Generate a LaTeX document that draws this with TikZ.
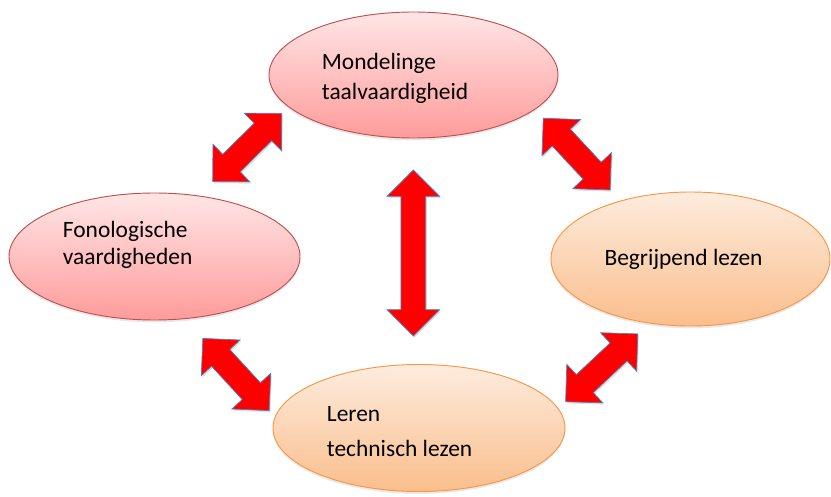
\documentclass[tikz,border=0pt]{standalone}
\usepackage{fontspec}
\setmainfont{Carlito}
\usepackage{tikz}
\usetikzlibrary{shapes.geometric,shapes.arrows,shadows}
\usepackage{xcolor}
\definecolor{skpink}{RGB}{255,230,230}
\definecolor{skpinkdark}{RGB}{255,155,155}
\definecolor{skpinkline}{RGB}{192,80,77}
\definecolor{skorange}{RGB}{253,236,222}
\definecolor{skorangedark}{RGB}{250,190,140}
\definecolor{skorangeline}{RGB}{247,150,70}
\definecolor{skred}{RGB}{255,0,0}
\definecolor{skblue}{RGB}{79,129,189}
\tikzstyle{bubble} = [ellipse, inner sep=0pt, line width=0.8pt, drop shadow={opacity=0.18, shadow xshift=0pt, shadow yshift=-2pt}]
\tikzstyle{pinkbubble} = [bubble, draw=skpinkline, top color=skpink, bottom color=skpinkdark]
\tikzstyle{orangebubble} = [bubble, draw=skorangeline, top color=skorange, bottom color=skorangedark]
\tikzstyle{link} = [double arrow, draw=skblue, fill=skred, line width=0.6pt, inner xsep=0pt, inner ysep=0.36cm, minimum width=0pt, double arrow head extend=0.42cm, double arrow tip angle=90, drop shadow={opacity=0.25, shadow xshift=1pt, shadow yshift=-1.5pt}]
\tikzstyle{txt} = [inner sep=0pt, anchor=base west, font=\fontsize{20}{24}\selectfont]

\begin{document}
\begin{tikzpicture}[x=0.03cm, y=0.03cm]
    \useasboundingbox (0,0) rectangle (831,496);

    % Bubbles
    \node[pinkbubble, minimum width=8.67cm, minimum height=3.78cm] (mondeling) at (413.5, 421) {};
    \node[pinkbubble, minimum width=8.73cm, minimum height=3.81cm] (fonologisch) at (154.5, 239.5) {};
    \node[orangebubble, minimum width=8.37cm, minimum height=4.02cm] (begrijpend) at (690.5, 237) {};
    \node[orangebubble, minimum width=8.76cm, minimum height=3.81cm] (technisch) at (419, 68) {};

    % Texts
    \node[txt] (mondelingA) at (321.7, 426) {Mondelinge};
    \node[txt] (mondelingB) at (321.7, 396.7) {taalvaardigheid};
    \node[txt] (fonologischA) at (62.7, 258.3) {Fonologische};
    \node[txt] (fonologischB) at (62.7, 231) {vaardigheden};
    \node[txt] (begrijpendA) at (604.3, 230) {Begrijpend lezen};
    \node[txt] (technischA) at (326.7, 74.3) {Leren};
    \node[txt] (technischB) at (326.7, 39.3) {technisch lezen};

    % Arrows
    \node[link, minimum height=2.91cm, rotate=44.7] (linkA) at (247.2, 348.5) {};
    \node[link, minimum height=4.98cm, rotate=90] (linkB) at (413.3, 243) {};
    \node[link, minimum height=2.94cm, rotate=-47] (linkC) at (576.7, 341.9) {};
    \node[link, minimum height=2.94cm, rotate=-47.4] (linkD) at (236, 121.5) {};
    \node[link, minimum height=2.97cm, rotate=43.2] (linkE) at (601.7, 128.2) {};
\end{tikzpicture}
\end{document}
